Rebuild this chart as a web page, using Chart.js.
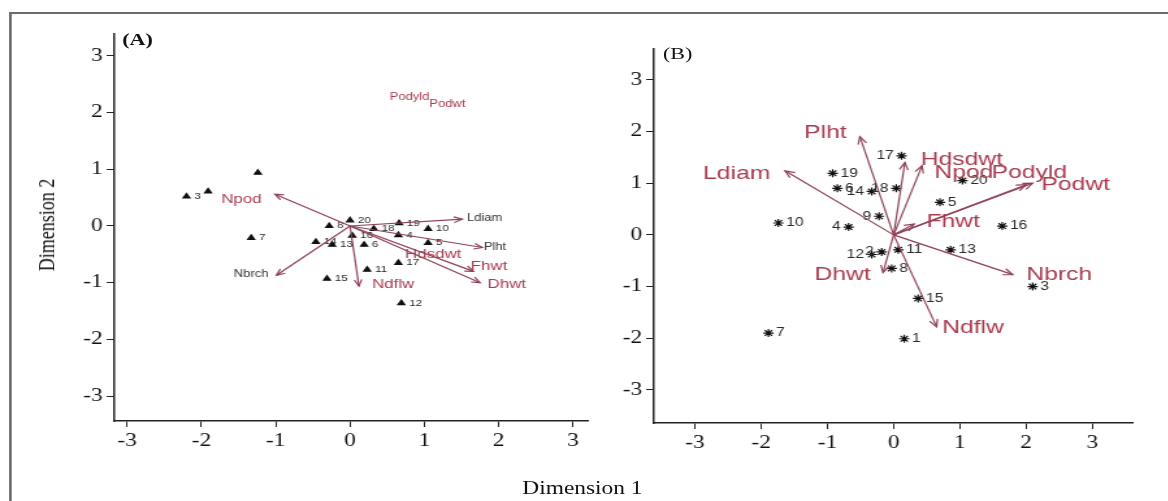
<!DOCTYPE html>
<html>
<head>
<meta charset="utf-8">
<script src="https://cdn.jsdelivr.net/npm/chart.js@4.4.0/dist/chart.umd.min.js"></script>
<style>
body { margin: 0; background: #fff; overflow: hidden; }
#page { position: absolute; left: 0; top: 0; width: 899px; height: 501px; transform: scaleX(1.3); transform-origin: 0 0; }
#frame { position: absolute; left: 7px; top: 12px; width: 900px; height: 520px; border: 2px solid #6a6a6a; }
canvas { position: absolute; }
.txt { position: absolute; font-family: "Liberation Serif", serif; color: #111; white-space: nowrap; }
</style>
</head>
<body>
<div id="page">
  <div id="frame"></div>
  <canvas id="panelA" width="428" height="441" style="left:30px;top:20px"></canvas>
  <canvas id="panelB" width="417" height="428" style="left:460px;top:35px"></canvas>
  <div class="txt" style="left:94px;top:30px;font-size:17px;font-weight:bold">(A)</div>
  <div class="txt" style="left:510px;top:44px;font-size:17px">(B)</div>
  <div class="txt" style="left:36px;top:225px;font-size:18px;transform:translate(-50%,-50%) rotate(-90deg)">Dimension 2</div>
  <div class="txt" style="left:448px;top:488px;font-size:18px;transform:translate(-50%,-50%)">Dimension 1</div>
</div>
<script>
const axisTicks = [-3, -2, -1, 0, 1, 2, 3];

// Panel A - observations
const obsLabelsA = ['', '', '3', '4', '5', '6', '7', '8', '10', '11', '12', '13', '14', '15', '16', '17', '18', '19', '20'];
const obsXA = [-1.24, -1.91, -2.2, 0.65, 1.05, 0.19, -1.33, -0.28, 1.05, 0.23, 0.69, -0.24, -0.46, -0.31, 0.03, 0.65, 0.32, 0.66, 0.0];
const obsYA = [0.94, 0.61, 0.52, -0.16, -0.3, -0.33, -0.21, 0.0, -0.05, -0.77, -1.36, -0.33, -0.28, -0.93, -0.17, -0.65, -0.05, 0.05, 0.1];

// Panel A - variables (null tip = no arrow drawn)
const varNamesA = ['Npod', 'Ldiam', 'Plht', 'Nbrch', 'Ndflw', 'Hdsdwt', 'Fhwt', 'Dhwt', 'Podyld', 'Podwt'];
const varTipXA = [-1.01, 1.51, 1.78, -0.99, 0.12, null, 1.66, 1.75, null, null];
const varTipYA = [0.56, 0.12, -0.38, -0.87, -1.06, null, -0.8, -1.0, null, null];
const varLabXA = [-1.46, 1.81, 1.95, -1.33, 0.58, 1.12, 1.87, 2.11, 0.8, 1.31];
const varLabYA = [0.47, 0.14, -0.37, -0.86, -1.03, -0.51, -0.72, -1.03, 2.27, 2.15];

// Panel B - observations
const obsLabelsB = ['1', '2', '3', '4', '5', '6', '7', '8', '9', '10', '11', '12', '13', '14', '15', '16', '17', '18', '19', '20'];
const obsXB = [0.16, -0.18, 2.1, -0.68, 0.7, -0.85, -1.89, -0.03, -0.22, -1.74, 0.07, -0.33, 0.86, -0.33, 0.37, 1.64, 0.12, 0.04, -0.92, 1.04];
const obsYB = [-2.01, -0.33, -1.0, 0.15, 0.63, 0.9, -1.9, -0.65, 0.36, 0.23, -0.29, -0.38, -0.29, 0.84, -1.23, 0.17, 1.53, 0.9, 1.19, 1.05];

// Panel B - variables
const varNamesB = ['Plht', 'Ldiam', 'Hdsdwt', 'Npod', 'Podyld', 'Podwt', 'Fhwt', 'Nbrch', 'Ndflw', 'Dhwt'];
const varTipXB = [-0.51, -1.64, 0.43, 0.17, 2.0, 2.1, 0.31, 1.8, 0.65, -0.16];
const varTipYB = [1.9, 1.24, 1.34, 1.4, 0.97, 1.0, 0.21, -0.77, -1.78, -0.73];
const varLabXB = [-1.03, -2.37, 1.03, 1.06, 2.05, 2.75, 0.9, 2.5, 1.2, -0.77];
const varLabYB = [1.97, 1.19, 1.46, 1.21, 1.21, 0.96, 0.25, -0.77, -1.8, -0.77];

const LABEL_RED = '#a83c4e';
const ARROW_RED = '#8f4256';

const biplotPlugin = {
    id: 'biplot',
    afterDatasetsDraw(chart, args, o) {
        const ctx = chart.ctx;
        const x = chart.scales.x, y = chart.scales.y;
        const x0 = x.getPixelForValue(0), y0 = y.getPixelForValue(0);
        ctx.save();

        // observation numbers
        const meta = chart.getDatasetMeta(0);
        ctx.fillStyle = '#2a2a2a';
        ctx.font = o.obsFont;
        ctx.textBaseline = 'middle';
        meta.data.forEach(function(pt, i) {
            const lab = o.obsLabels[i];
            if (!lab) return;
            if (o.leftLabels.indexOf(lab) >= 0) {
                ctx.textAlign = 'right';
                ctx.fillText(lab, pt.x - 6, pt.y);
            } else {
                ctx.textAlign = 'left';
                ctx.fillText(lab, pt.x + 6, pt.y);
            }
        });

        // variable names
        ctx.textAlign = 'center';
        o.names.forEach(function(name, i) {
            const st = o.nameStyle(name);
            ctx.font = st.font;
            ctx.fillStyle = st.color;
            ctx.fillText(name, x.getPixelForValue(o.labX[i]), y.getPixelForValue(o.labY[i]));
        });

        // arrows from the origin
        ctx.strokeStyle = ARROW_RED;
        ctx.lineWidth = 1.2;
        o.tipX.forEach(function(tx, i) {
            if (tx === null) return;
            const px = x.getPixelForValue(tx), py = y.getPixelForValue(o.tipY[i]);
            ctx.beginPath();
            ctx.moveTo(x0, y0);
            ctx.lineTo(px, py);
            ctx.stroke();
            const a = Math.atan2(py - y0, px - x0);
            const h = o.head;
            ctx.beginPath();
            ctx.moveTo(px - h * Math.cos(a - 0.42), py - h * Math.sin(a - 0.42));
            ctx.lineTo(px, py);
            ctx.lineTo(px - h * Math.cos(a + 0.42), py - h * Math.sin(a + 0.42));
            ctx.stroke();
        });
        ctx.restore();
    }
};

function axis(min, max, fit) {
    return {
        type: 'linear',
        min: min,
        max: max,
        afterBuildTicks: function(scale) {
            scale.ticks = axisTicks.map(function(v) { return { value: v }; });
        },
        afterFit: fit,
        grid: { display: true, drawOnChartArea: false, drawTicks: true, tickLength: 6, color: '#222', lineWidth: 1 },
        border: { display: true, color: '#222', width: 1.5 },
        ticks: {
            color: '#111',
            padding: 3,
            maxRotation: 0,
            font: { family: 'Liberation Serif', size: 18 }
        }
    };
}

function makePanel(id, pts, xr, yr, yWidth, pointStyle, pointRadius, plug) {
    const ctx = document.getElementById(id).getContext('2d');
    return new Chart(ctx, {
        type: 'scatter',
        data: {
            datasets: [{
                data: pts,
                pointStyle: pointStyle,
                pointRadius: pointRadius,
                backgroundColor: '#111',
                borderColor: '#111',
                borderWidth: 1.2
            }]
        },
        options: {
            responsive: false,
            animation: false,
            layout: { padding: { top: 10, right: 0, bottom: 0, left: 0 } },
            plugins: {
                legend: { display: false },
                tooltip: { enabled: false },
                biplot: plug
            },
            scales: {
                x: axis(xr[0], xr[1], function(s) { s.height = 40; }),
                y: axis(yr[0], yr[1], function(s) { s.width = yWidth; })
            }
        },
        plugins: [biplotPlugin]
    });
}

const ptsA = obsXA.map(function(v, i) { return { x: v, y: obsYA[i] }; });
const ptsB = obsXB.map(function(v, i) { return { x: v, y: obsYB[i] }; });

makePanel('panelA', ptsA, [-3.17, 3.21], [-3.44, 3.39], 58, 'triangle', 3, {
    obsLabels: obsLabelsA,
    obsFont: '9px "Liberation Sans", Arial, sans-serif',
    leftLabels: [],
    names: varNamesA, labX: varLabXA, labY: varLabYA, tipX: varTipXA, tipY: varTipYA,
    head: 7,
    nameStyle: function(n) {
        if (['Ldiam', 'Plht', 'Nbrch'].indexOf(n) >= 0) return { font: '10px "Liberation Sans", Arial, sans-serif', color: '#333' };
        if (n === 'Podyld' || n === 'Podwt') return { font: '10px "Liberation Sans", Arial, sans-serif', color: LABEL_RED };
        return { font: '13px "Liberation Sans", Arial, sans-serif', color: LABEL_RED };
    }
});

makePanel('panelB', ptsB, [-3.62, 3.62], [-3.64, 3.6], 43, 'star', 4, {
    obsLabels: obsLabelsB,
    obsFont: '12px "Liberation Sans", Arial, sans-serif',
    leftLabels: ['2', '4', '9', '12', '14', '17', '18'],
    names: varNamesB, labX: varLabXB, labY: varLabYB, tipX: varTipXB, tipY: varTipYB,
    head: 8,
    nameStyle: function() {
        return { font: '19px "Liberation Sans", Arial, sans-serif', color: LABEL_RED };
    }
});
</script>
</body>
</html>
